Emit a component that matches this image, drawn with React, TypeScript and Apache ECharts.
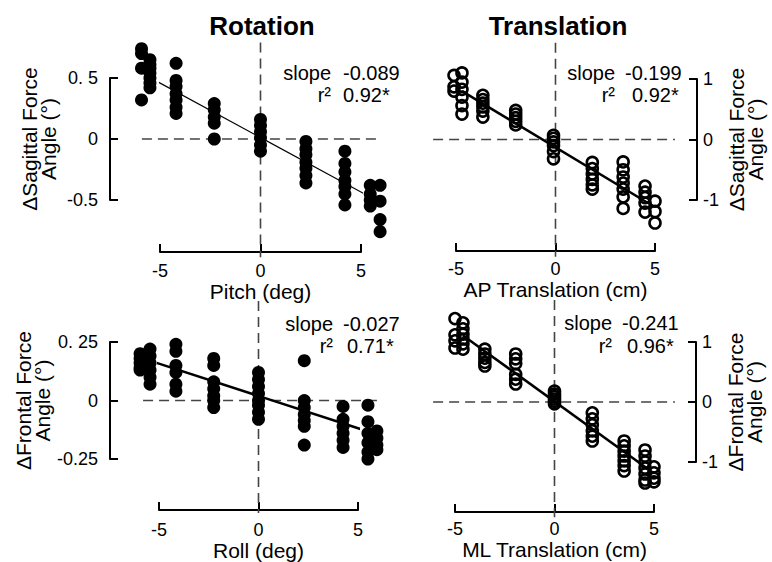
import React, { useEffect, useRef } from "react";
import * as echarts from "echarts";

const FONT = "'Liberation Sans', Arial, Helvetica, sans-serif";
const INK = "#000000";
const DASH = "#444444";

// ---------- data ----------
// Rotation / sagittal (pitch)
const pitchLevels = [-5.92, -5.5, -4.2, -2.3, 0, 2.26, 4.2, 5.46, 5.95];
const sagittalRotation = [
  [0.74, 0.7, 0.58, 0.32],
  [0.65, 0.61, 0.58, 0.54, 0.5, 0.46, 0.42],
  [0.62, 0.48, 0.43, 0.37, 0.32, 0.26, 0.21],
  [0.29, 0.24, 0.18, 0.13, 0.0],
  [0.16, 0.11, 0.06, 0.01, -0.05, -0.1],
  [-0.02, -0.08, -0.13, -0.19, -0.24, -0.3, -0.36],
  [-0.1, -0.2, -0.27, -0.34, -0.39, -0.45, -0.54],
  [-0.38, -0.45, -0.5, -0.55],
  [-0.38, -0.51, -0.66, -0.76],
];
const pitchFit = [[-5.35, 0.49], [5.5, -0.48]];

// Translation / sagittal (AP)
const apLevels = [-5.1, -4.7, -3.65, -2.0, -0.1, 1.85, 3.4, 4.5, 5.0];
const sagittalTranslation = [
  [1.06, 0.87, 0.8],
  [1.1, 0.95, 0.83, 0.7, 0.56, 0.42],
  [0.73, 0.66, 0.6, 0.54, 0.47, 0.37],
  [0.48, 0.42, 0.36, 0.3, 0.24],
  [0.07, 0.02, -0.04, -0.1, -0.2, -0.32],
  [-0.38, -0.48, -0.57, -0.66, -0.75, -0.82],
  [-0.37, -0.5, -0.62, -0.72, -0.82, -0.95, -1.14],
  [-0.77, -0.87, -0.96, -1.05, -1.2],
  [-1.02, -1.19, -1.38],
];
const apFit = [[-4.7, 0.8], [4.9, -1.1]];

// Rotation / frontal (roll)
const rollLevels = [-5.95, -5.45, -4.15, -2.25, 0, 2.3, 4.25, 5.5, 5.95];
const frontalRotation = [
  [0.2, 0.18, 0.16, 0.14, 0.13],
  [0.22, 0.19, 0.16, 0.13, 0.1, 0.07],
  [0.24, 0.21, 0.15, 0.12, 0.07, 0.04],
  [0.18, 0.15, 0.08, 0.05, 0.02, 0.0, -0.03],
  [0.12, 0.09, 0.06, 0.03, 0.0, -0.02, -0.05, -0.08],
  [0.17, 0.0, -0.03, -0.06, -0.085, -0.11, -0.19],
  [-0.025, -0.08, -0.11, -0.14, -0.17, -0.2],
  [-0.02, -0.09, -0.14, -0.18, -0.22, -0.25],
  [-0.13, -0.16, -0.19, -0.21],
];
const rollFit = [[-5.45, 0.17], [5.8, -0.14]];

// Translation / frontal (ML)
const mlLevels = [-5.0, -4.6, -3.5, -1.95, 0, 1.9, 3.5, 4.55, 5.0];
const frontalTranslation = [
  [1.39, 1.12, 1.02, 0.9],
  [1.32, 1.22, 1.13, 1.05, 0.97, 0.88],
  [0.88, 0.8, 0.73, 0.66, 0.6],
  [0.8, 0.72, 0.64, 0.46, 0.38, 0.3],
  [0.18, 0.13, 0.09, 0.05, 0.01, -0.03],
  [-0.18, -0.28, -0.38, -0.48, -0.57, -0.65],
  [-0.65, -0.73, -0.82, -0.9, -0.98, -1.06, -1.15],
  [-0.8, -0.9, -1.0, -1.1, -1.2, -1.3, -1.35],
  [-1.08, -1.18, -1.27, -1.33],
];
const mlFit = [[-4.6, 1.11], [4.8, -1.14]];

// ticks
const xTicks = [-5, 0, 5];
const xTickLabels = ["-5", "0", "5"];
const sagRotTicks = [-0.5, 0, 0.5];
const sagRotTickLabels = ["-0.5", "0", "0. 5"];
const froRotTicks = [-0.25, 0, 0.25];
const froRotTickLabels = ["-0.25", "0", "0. 25"];
const transTicks = [-1, 0, 1];
const transTickLabels = ["-1", "0", "1"];

// reference-line extents (data units)
const zeroLineX = [[-5.9, 5.8], [-6.15, 6.0], [-5.8, 5.95], [-6.1, 6.05]];
const zeroLineY = [[0.79, -0.97], [1.6, -1.94], [0.425, -0.48], [1.7, -1.92]];

// texts
const columnTitles = ["Rotation", "Translation"];
const slopeValues = ["-0.089", "-0.199", "-0.027", "-0.241"];
const r2Values = ["0.92*", "0.92*", "0.71*", "0.96*"];

// ---------- layout ----------
const clusterData = (levels: number[], values: number[][]) =>
  levels.flatMap((x, i) => values[i].map((y) => [x, y]));

const labelFor = (ticks: number[], labels: string[]) => (v: number) => {
  const i = ticks.findIndex((t) => Math.abs(t - v) < 1e-9);
  return i >= 0 ? labels[i] : "";
};

const panels = [
  {
    grid: { left: 160, top: 78, width: 201, height: 122 },
    xName: "Pitch (deg)", xNameGap: 29, xLabelMargin: 10, xOffset: 52,
    yMin: -0.5, yMax: 0.5, yInterval: 0.5, yTicks: sagRotTicks, yLabels: sagRotTickLabels,
    yName: "\u0394Sagittal Force\nAngle (\u00B0)", yPos: "left", yOffset: 50, yNameGap: 52, yLabelMargin: 12,
    data: clusterData(pitchLevels, sagittalRotation), filled: true, fit: pitchFit, fitWidth: 1.2,
  },
  {
    grid: { left: 456, top: 79, width: 199, height: 121 },
    xName: "AP Translation (cm)", xNameGap: 24, xLabelMargin: 9, xOffset: 51,
    yMin: -1, yMax: 1, yInterval: 1, yTicks: transTicks, yLabels: transTickLabels,
    yName: "\u0394Sagittal Force\nAngle (\u00B0)", yPos: "right", yOffset: 42, yNameGap: 30, yLabelMargin: 6,
    data: clusterData(apLevels, sagittalTranslation), filled: false, fit: apFit, fitWidth: 2.5,
  },
  {
    grid: { left: 159, top: 342, width: 199, height: 120 },
    xName: "Roll (deg)", xNameGap: 26, xLabelMargin: 11, xOffset: 51,
    yMin: -0.25, yMax: 0.25, yInterval: 0.25, yTicks: froRotTicks, yLabels: froRotTickLabels,
    yName: "\u0394Frontal Force\nAngle (\u00B0)", yPos: "left", yOffset: 49, yNameGap: 52, yLabelMargin: 12,
    data: clusterData(rollLevels, frontalRotation), filled: true, fit: rollFit, fitWidth: 2.5,
  },
  {
    grid: { left: 455, top: 342, width: 199, height: 120 },
    xName: "ML Translation (cm)", xNameGap: 26, xLabelMargin: 8, xOffset: 50,
    yMin: -1, yMax: 1, yInterval: 1, yTicks: transTicks, yLabels: transTickLabels,
    yName: "\u0394Frontal Force\nAngle (\u00B0)", yPos: "right", yOffset: 42, yNameGap: 30, yLabelMargin: 6,
    data: clusterData(mlLevels, frontalTranslation), filled: false, fit: mlFit, fitWidth: 2.5,
  },
];

const annotLayout = [
  { labelRight: 331, slopeLeft: 343, r2Left: 343, y1: 80, y2: 102 },
  { labelRight: 615, slopeLeft: 625, r2Left: 632, y1: 80, y2: 102 },
  { labelRight: 333, slopeLeft: 343, r2Left: 347, y1: 331, y2: 353 },
  { labelRight: 612, slopeLeft: 622, r2Left: 627, y1: 330, y2: 353 },
];
const titleLayout = [{ x: 262, y: 35 }, { x: 558, y: 35 }];

function buildOption() {
  const axisLineStyle = { color: INK, width: 2 };
  const xAxis = panels.map((p, i) => ({
    type: "value",
    gridIndex: i,
    min: -5,
    max: 5,
    interval: 5,
    position: "bottom",
    offset: p.xOffset,
    axisLine: { show: true, onZero: false, lineStyle: axisLineStyle },
    axisTick: { show: true, inside: true, length: 8, lineStyle: axisLineStyle },
    axisLabel: {
      margin: p.xLabelMargin, fontSize: 18, color: INK, fontFamily: FONT,
      formatter: labelFor(xTicks, xTickLabels),
    },
    splitLine: { show: false },
    name: p.xName,
    nameLocation: "middle",
    nameGap: p.xNameGap,
    nameTextStyle: { fontSize: 21, color: INK, fontFamily: FONT },
  }));
  const yAxis = panels.map((p, i) => ({
    type: "value",
    gridIndex: i,
    min: p.yMin,
    max: p.yMax,
    interval: p.yInterval,
    position: p.yPos,
    offset: p.yOffset,
    axisLine: { show: true, onZero: false, lineStyle: axisLineStyle },
    axisTick: { show: true, inside: true, length: 8, lineStyle: axisLineStyle },
    axisLabel: {
      margin: p.yLabelMargin, fontSize: 18, color: INK, fontFamily: FONT,
      formatter: labelFor(p.yTicks, p.yLabels),
    },
    splitLine: { show: false },
    name: p.yName,
    nameLocation: "middle",
    nameRotate: 90,
    nameGap: p.yNameGap,
    nameTextStyle: { fontSize: 21, lineHeight: 19, color: INK, fontFamily: FONT },
  }));

  const series: any[] = [];
  panels.forEach((p, i) => {
    // dashed zero reference lines, drawn through the axes' own scales
    series.push({
      type: "custom",
      xAxisIndex: i,
      yAxisIndex: i,
      silent: true,
      clip: false,
      z: 1,
      data: [
        [zeroLineX[i][0], 0, zeroLineX[i][1], 0],
        [0, zeroLineY[i][0], 0, zeroLineY[i][1]],
      ],
      renderItem: (_params: any, api: any) => {
        const a = api.coord([api.value(0), api.value(1)]);
        const b = api.coord([api.value(2), api.value(3)]);
        return {
          type: "line",
          shape: { x1: a[0], y1: a[1], x2: b[0], y2: b[1] },
          style: { stroke: DASH, lineWidth: 1.6, lineDash: [10, 6], fill: null },
        };
      },
    });
    series.push({
      type: "scatter", xAxisIndex: i, yAxisIndex: i, clip: false, silent: true,
      symbol: "circle", z: 2,
      symbolSize: p.filled ? 13 : 11,
      itemStyle: p.filled
        ? { color: INK, opacity: 1 }
        : { color: "rgba(0,0,0,0)", borderColor: INK, borderWidth: 2.6, opacity: 1 },
      data: p.data,
    });
    series.push({
      type: "line", xAxisIndex: i, yAxisIndex: i, clip: false, silent: true,
      symbol: "none", lineStyle: { color: INK, width: p.fitWidth }, z: 3,
      data: p.fit,
    });
  });

  const graphics: any[] = [];
  columnTitles.forEach((t, i) => {
    graphics.push({
      type: "text",
      x: titleLayout[i].x,
      y: titleLayout[i].y - 0.35 * 26,
      style: {
        text: t, fontSize: 26, fontWeight: "bold", fontFamily: FONT, fill: INK,
        align: "center", verticalAlign: "middle",
      },
    });
  });
  annotLayout.forEach((a, i) => {
    const fs = 20;
    const base = { fontSize: fs, fontFamily: FONT, fill: INK, verticalAlign: "middle" };
    const off = 0.35 * fs;
    graphics.push({ type: "text", x: a.labelRight, y: a.y1 - off, style: { ...base, text: "slope", align: "right" } });
    graphics.push({ type: "text", x: a.slopeLeft, y: a.y1 - off, style: { ...base, text: slopeValues[i], align: "left" } });
    graphics.push({ type: "text", x: a.labelRight, y: a.y2 - off, style: { ...base, text: "r\u00B2", align: "right" } });
    graphics.push({ type: "text", x: a.r2Left, y: a.y2 - off, style: { ...base, text: r2Values[i], align: "left" } });
  });

  return {
    animation: false,
    backgroundColor: "#ffffff",
    textStyle: { fontFamily: FONT },
    grid: panels.map((p) => ({ ...p.grid, containLabel: false })),
    xAxis,
    yAxis,
    series,
    graphic: graphics,
  };
}

export default function App() {
  const ref = useRef<HTMLDivElement>(null);
  useEffect(() => {
    if (!ref.current) return;
    const chart = echarts.init(ref.current, null, { renderer: "svg" });
    chart.setOption(buildOption() as any);
    return () => chart.dispose();
  }, []);
  return (
    <div
      ref={ref}
      style={{ position: "fixed", left: 0, top: 0, width: 772, height: 562, background: "#fff" }}
    />
  );
}
